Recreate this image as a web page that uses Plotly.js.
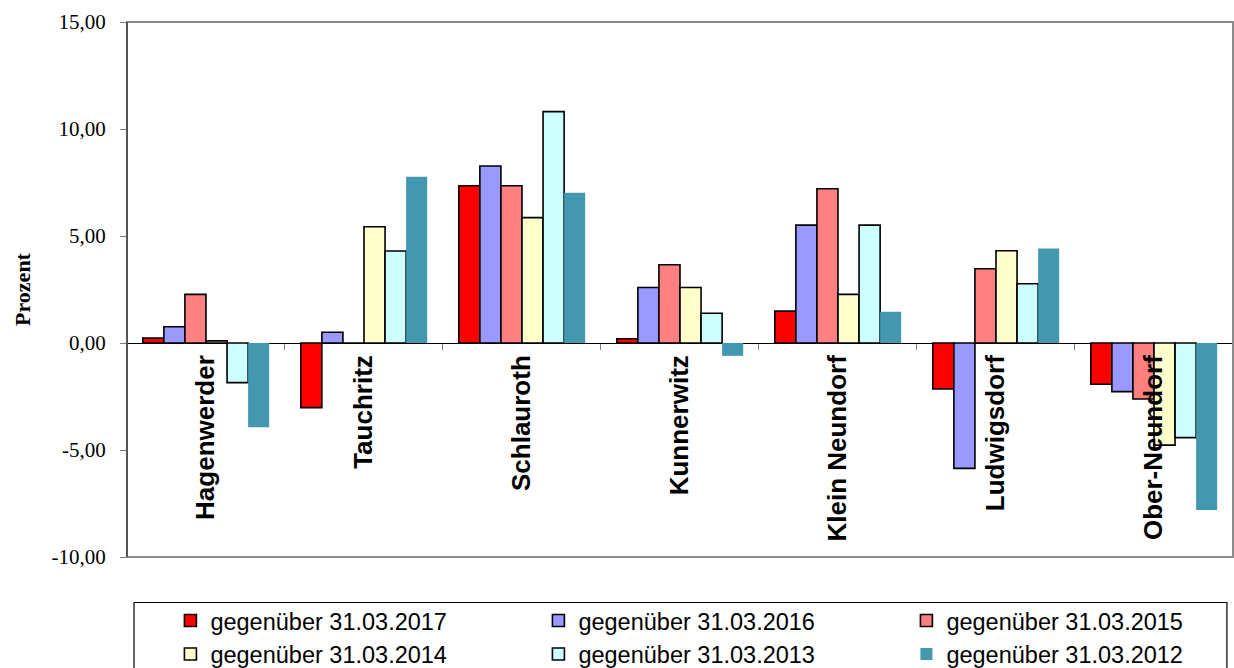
<!DOCTYPE html>
<html>
<head>
<meta charset="utf-8">
<script src="https://cdn.plot.ly/plotly-3.0.1.min.js"></script>
<style>html,body{margin:0;padding:0;background:#fff;}#chart{width:1234px;height:668px;}</style>
</head>
<body>
<div id="chart"></div>
<script>
var categories = ['Hagenwerder', 'Tauchritz', 'Schlauroth', 'Kunnerwitz', 'Klein Neundorf', 'Ludwigsdorf', 'Ober-Neundorf'];
var seriesNames = ['gegenüber 31.03.2017', 'gegenüber 31.03.2016', 'gegenüber 31.03.2015', 'gegenüber 31.03.2014', 'gegenüber 31.03.2013', 'gegenüber 31.03.2012'];
var s2017 = [0.23, -3.02, 7.35, 0.20, 1.49, -2.15, -1.93];
var s2016 = [0.76, 0.50, 8.27, 2.59, 5.51, -5.86, -2.27];
var s2015 = [2.27, 0.00, 7.35, 3.66, 7.21, 3.47, -2.62];
var s2014 = [0.10, 5.43, 5.86, 2.59, 2.27, 4.31, -4.77];
var s2013 = [-1.85, 4.30, 10.81, 1.39, 5.51, 2.77, -4.42];
var s2012 = [-3.94, 7.77, 7.02, -0.60, 1.46, 4.42, -7.80];
var yTickVals = [-10, -5, 0, 5, 10, 15];
var yTickText = ['-10,00', '-5,00', '0,00', '5,00', '10,00', '15,00'];

var seriesValues = [s2017, s2016, s2015, s2014, s2013, s2012];
var colors = ['#FF0000', '#9999FF', '#FF8080', '#FFFFCC', '#CCFFFF', '#4398AF'];
var outlined = [true, true, true, true, true, false];

var traces = seriesValues.map(function (vals, i) {
  return {
    type: 'bar',
    name: seriesNames[i],
    x: categories,
    y: vals,
    marker: {
      color: colors[i],
      line: { color: outlined[i] ? '#000000' : colors[i], width: outlined[i] ? 1.6 : 0 }
    },
    hoverinfo: 'skip'
  };
});

var layout = {
  width: 1234,
  height: 668,
  paper_bgcolor: '#ffffff',
  plot_bgcolor: '#ffffff',
  separators: ',.',
  margin: { l: 20, r: 1, t: 22, b: 111, pad: 0, autoexpand: false },
  barmode: 'group',
  bargap: 0.2,
  bargroupgap: 0,
  showlegend: true,
  xaxis: {
    domain: [0.0882, 1],
    type: 'category',
    anchor: 'free',
    position: 0.4,
    tickson: 'boundaries',
    ticks: 'outside',
    ticklen: 6,
    tickwidth: 1,
    tickcolor: '#808080',
    tickangle: -90,
    ticklabelstandoff: 6,
    tickfont: { family: 'Liberation Sans, Arial, sans-serif', size: 26, color: '#000000', weight: 'bold' },
    showline: false,
    showgrid: false,
    zeroline: false,
    automargin: false,
    fixedrange: true
  },
  yaxis: {
    range: [-10, 15],
    tickmode: 'array',
    tickvals: yTickVals,
    ticktext: yTickText,
    ticks: 'outside',
    ticklen: 6,
    tickcolor: '#808080',
    ticklabelstandoff: 10,
    tickfont: { family: 'Liberation Serif, Times New Roman, serif', size: 21, color: '#000000' },
    showgrid: false,
    zeroline: true,
    zerolinecolor: '#000000',
    zerolinewidth: 1,
    showline: false,
    automargin: false,
    title: { text: '<b>Prozent</b>', font: { family: 'Liberation Serif, Times New Roman, serif', size: 22, color: '#000000' }, standoff: 14 },
    fixedrange: true
  },
  legend: {
    orientation: 'h',
    x: 0.124,
    xanchor: 'left',
    y: -0.078,
    yanchor: 'top',
    borderwidth: 0,
    bgcolor: 'rgba(0,0,0,0)',
    entrywidth: 323,
    entrywidthmode: 'pixels',
    itemwidth: 30,
    font: { family: 'Liberation Sans, Arial, sans-serif', size: 23.5, color: '#000000' },
    traceorder: 'normal'
  },
  shapes: [
    { type: 'rect', xref: 'x domain', yref: 'y domain', x0: 0, x1: 1, y0: 0, y1: 1, line: { color: '#8c8c8c', width: 2 }, layer: 'above' },
    { type: 'line', xref: 'x domain', yref: 'y domain', x0: 0, x1: 0, y0: 0, y1: 1, line: { color: '#555555', width: 2 }, layer: 'above' },
    { type: 'rect', xref: 'paper', yref: 'paper', x0: 0.094, x1: 0.995, y0: -0.085, y1: -0.25, line: { color: '#000000', width: 1.2 }, layer: 'below' }
  ]
};

Plotly.newPlot('chart', traces, layout, { staticPlot: true, displayModeBar: false });
</script>
</body>
</html>
